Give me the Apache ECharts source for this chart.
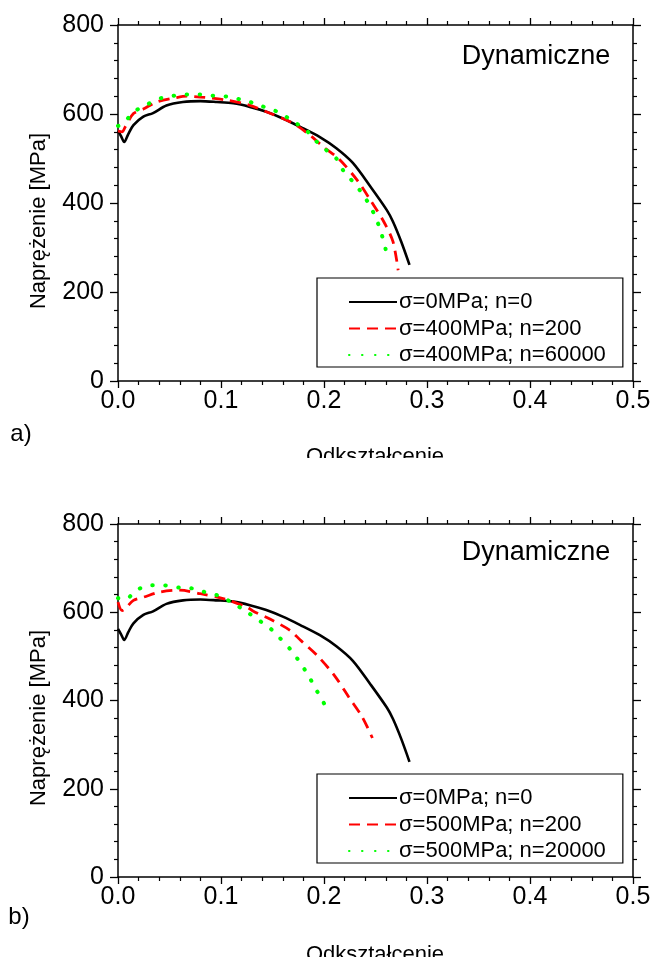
<!DOCTYPE html>
<html><head><meta charset="utf-8">
<script src="https://cdn.jsdelivr.net/npm/echarts@6/dist/echarts.min.js"></script>
<style>html,body{margin:0;padding:0;background:#fff}#c{width:655px;height:957px}</style>
</head><body><div id="c"></div>
<script>
// Reference curve (same in both panels)
const black_x = [0, 0.003, 0.006, 0.01, 0.015, 0.0246, 0.034, 0.047, 0.063, 0.08, 0.096, 0.112, 0.128, 0.144, 0.16, 0.177, 0.196, 0.212, 0.228, 0.245, 0.261, 0.267, 0.275, 0.283];
const black_y = [562, 550, 537, 555, 575, 594, 602, 619, 627, 629, 627, 624, 616, 605, 590, 571, 548, 523, 490, 437, 384, 358, 313, 261];
// Panel a)
const redA_x = [0, 0.004, 0.007, 0.015, 0.0246, 0.0375, 0.057, 0.067, 0.08, 0.09, 0.106, 0.126, 0.144, 0.17, 0.186, 0.2, 0.214, 0.232, 0.246, 0.259, 0.267, 0.272];
const redA_y = [562, 560, 571, 601, 611, 627, 637, 640, 638, 636, 631, 621, 605, 579, 553, 525, 500, 452, 403, 354, 313, 249];
const greenA_x = [0, 0.005, 0.015, 0.028, 0.041, 0.054, 0.067, 0.08, 0.093, 0.106, 0.12, 0.134, 0.146, 0.157, 0.17, 0.182, 0.188, 0.199, 0.212, 0.219, 0.228, 0.237, 0.245, 0.251, 0.255, 0.259, 0.261];
const greenA_y = [573, 578, 604, 621, 635, 641, 644, 644, 641, 639, 632, 623, 612, 603, 583, 566, 549, 525, 500, 472, 448, 422, 392, 363, 336, 306, 277];
// Panel b)
const redB_x = [0, 0.004, 0.015, 0.0246, 0.041, 0.06, 0.08, 0.102, 0.125, 0.131, 0.148, 0.167, 0.177, 0.193, 0.21, 0.224, 0.237, 0.247];
const redB_y = [623, 604, 627, 634, 646, 650, 642, 631, 612, 603, 584, 559, 537, 503, 457, 408, 363, 315];
const greenB_x = [0, 0.007, 0.018, 0.031, 0.044, 0.059, 0.072, 0.084, 0.097, 0.11, 0.123, 0.136, 0.147, 0.157, 0.168, 0.177, 0.185, 0.192, 0.199, 0.205];
const greenB_y = [632, 629, 650, 661, 661, 656, 654, 646, 638, 623, 604, 583, 565, 542, 514, 485, 456, 426, 398, 369];

const namesA = ['σ=0MPa; n=0', 'σ=400MPa; n=200', 'σ=400MPa; n=60000'];
const namesB = ['σ=0MPa; n=0', 'σ=500MPa; n=200', 'σ=500MPa; n=20000'];
const xTicks = [0, 0.5, 0.1];   // min, max, interval
const yTicks = [0, 800, 200];
const panelLabels = ['a)', 'b)'];
const xTitle = 'Odkształcenie';
const yTitle = 'Naprężenie [MPa]';
const boxTitle = 'Dynamiczne';

const pairs = (xs, ys) => xs.map((x, i) => [x, ys[i]]);
const FONT = 'Liberation Sans, Arial, sans-serif';

function xAx(grid, pos, show) {
  return {
    type: 'value', gridIndex: grid, position: pos, min: xTicks[0], max: xTicks[1], interval: xTicks[2],
    axisLine: {show: true, onZero: false, lineStyle: {color: '#000', width: 1.5}},
    axisTick: {show: true, inside: false, length: 7, lineStyle: {color: '#000', width: 1.3}},
    minorTick: {show: true, splitNumber: 5, length: 4, lineStyle: {color: '#000', width: 1.2}},
    splitLine: {show: false},
    axisLabel: {show: show, color: '#000', fontSize: 25, fontFamily: FONT, margin: 8,
      formatter: v => v.toFixed(1)}
  };
}
function yAx(grid, pos, show) {
  return {
    type: 'value', gridIndex: grid, position: pos, min: yTicks[0], max: yTicks[1], interval: yTicks[2],
    axisLine: {show: true, onZero: false, lineStyle: {color: '#000', width: 1.5}},
    axisTick: {show: true, inside: false, length: 8, lineStyle: {color: '#000', width: 1.3}},
    minorTick: {show: true, splitNumber: 5, length: 4, lineStyle: {color: '#000', width: 1.2}},
    splitLine: {show: false},
    axisLabel: {show: show, color: '#000', fontSize: 25, fontFamily: FONT, margin: 14}
  };
}
const solid = {color: '#000', width: 2.6, type: 'solid'};
const dashed = {color: '#ff0000', width: 2.8, type: [11, 7]};
const dotted = {color: '#00ff00', width: 4, type: [0.5, 12.5], cap: 'round'};
function ser(name, data, g, ls) {
  return {name: name, type: 'line', xAxisIndex: g * 2, yAxisIndex: g * 2, data: data,
    symbol: 'none', smooth: 0.3, lineStyle: ls, itemStyle: {color: ls.color}, z: ls === solid ? 3 : 4,
    animation: false};
}
function legend(top, names) {
  return {
    orient: 'vertical', left: 317, top: top, data: names,
    backgroundColor: '#fff', borderColor: '#000', borderWidth: 1.2,
    padding: [13, 17, 1, 31], itemWidth: 48, itemHeight: 16, itemGap: 4.5,
    align: 'left', selectedMode: false,
    itemStyle: {opacity: 0},
    textStyle: {color: '#000', fontSize: 22, fontFamily: FONT, padding: [0, 0, 0, -3]}
  };
}
function txt(x, y, s, size, opt) {
  return Object.assign({type: 'text', x: x, y: y, z: 50,
    style: {text: s, fill: '#000', font: size + 'px ' + FONT, textAlign: 'center', textVerticalAlign: 'middle'}}, opt || {});
}

const chart = echarts.init(document.getElementById('c'), null, {renderer: 'canvas'});
chart.setOption({
  backgroundColor: '#fff',
  animation: false,
  grid: [
    {left: 118, top: 25, width: 515, height: 356},
    {left: 118, top: 524, width: 515, height: 353}
  ],
  xAxis: [xAx(0, 'bottom', true), xAx(0, 'top', false), xAx(1, 'bottom', true), xAx(1, 'top', false)],
  yAxis: [yAx(0, 'left', true), yAx(0, 'right', false), yAx(1, 'left', true), yAx(1, 'right', false)],
  legend: [legend(278, namesA), legend(774, namesB)],
  series: [
    ser(namesA[0], pairs(black_x, black_y), 0, solid),
    ser(namesA[1], pairs(redA_x, redA_y), 0, dashed),
    ser(namesA[2], pairs(greenA_x, greenA_y), 0, dotted),
    ser(namesB[0], pairs(black_x, black_y), 1, solid),
    ser(namesB[1], pairs(redB_x, redB_y), 1, dashed),
    ser(namesB[2], pairs(greenB_x, greenB_y), 1, dotted)
  ],
  graphic: [
    txt(536, 57, boxTitle, 27),
    txt(536, 553, boxTitle, 27),
    txt(39, 221, yTitle, 22, {rotation: Math.PI / 2}),
    txt(39, 718, yTitle, 22, {rotation: Math.PI / 2}),
    txt(375, 457, xTitle, 22),
    txt(375, 955, xTitle, 22),
    {type: 'rect', z: 60, shape: {x: 150, y: 458, width: 450, height: 30}, style: {fill: '#fff'}},
    txt(21, 434, panelLabels[0], 24),
    txt(19, 917, panelLabels[1], 24)
  ]
});
</script></body></html>
